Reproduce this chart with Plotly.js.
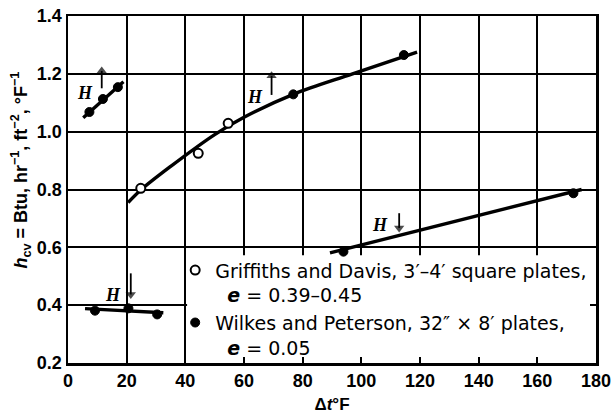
<!DOCTYPE html>
<html><head><meta charset="utf-8">
<script src="https://cdn.plot.ly/plotly-3.0.1.min.js"></script>
<style>html,body{margin:0;padding:0;background:#fff}#chart{width:613px;height:414px}</style>
</head><body><div id="chart"></div>
<script>
// Griffiths and Davis (open circles)
const griffX = [24.8, 44.4, 54.6];
const griffY = [0.804, 0.925, 1.029];
// Wilkes and Peterson (filled circles)
const wilkesX = [7.3, 11.9, 17.0, 76.8, 114.5, 93.9, 172.3, 9.2, 20.6, 30.4];
const wilkesY = [1.068, 1.113, 1.154, 1.129, 1.265, 0.585, 0.787, 0.381, 0.389, 0.368];
// faired curves
const curveAX = [5.2, 18.9];
const curveAY = [1.048, 1.173];
const curveBX = [20.5, 25, 35, 50, 60, 77, 97, 119];
const curveBY = [0.755, 0.80, 0.88, 0.99, 1.05, 1.13, 1.20, 1.275];
const curveCX = [89.3, 175.1];
const curveCY = [0.581, 0.80];
const curveDX = [5.8, 32.5];
const curveDY = [0.388, 0.374];
// H labels and heat-flow arrows
const hLabelX = [5.8, 63.8, 106.4, 15.5];
const hLabelY = [1.134, 1.121, 0.677, 0.435];
const arrowX = [11.5, 69.4, 112.9, 21.4];
const arrowFromY = [1.15, 1.127, 0.718, 0.51];
const arrowToY = [1.21, 1.193, 0.667, 0.437];
const xTicks = [0, 20, 40, 60, 80, 100, 120, 140, 160, 180];
const yTicks = [0.2, 0.4, 0.6, 0.8, 1.0, 1.2, 1.4];

const lineStyle = {color: '#000', width: 3.4};
const traces = [
  {x: curveAX, y: curveAY, mode: 'lines', line: lineStyle, showlegend: false, hoverinfo: 'skip'},
  {x: curveBX, y: curveBY, mode: 'lines', line: Object.assign({shape: 'spline', smoothing: 1}, lineStyle), showlegend: false, hoverinfo: 'skip'},
  {x: curveCX, y: curveCY, mode: 'lines', line: lineStyle, showlegend: false, hoverinfo: 'skip'},
  {x: curveDX, y: curveDY, mode: 'lines', line: lineStyle, showlegend: false, hoverinfo: 'skip'}
];
for (let i = 0; i < arrowX.length; i++) {
  traces.push({x: [arrowX[i], arrowX[i]], y: [arrowFromY[i], arrowToY[i]], mode: 'lines+markers', showlegend: false, hoverinfo: 'skip',
    line: {color: '#000', width: 1.8},
    marker: {symbol: 'triangle-up', angleref: 'previous', size: [0, 9], color: '#000', line: {width: 0}}});
}
traces.push(
  {x: griffX, y: griffY, mode: 'markers', legendgroup: 'g', name: 'Griffiths and Davis, 3\u2032\u20134\u2032 square plates,<br>\u00a0\u00a0<i><b>e</b></i> = 0.39\u20130.45',
   marker: {symbol: 'circle', size: 9, color: '#fff', line: {color: '#000', width: 2}}},
  {x: wilkesX, y: wilkesY, mode: 'markers', legendgroup: 'w', name: 'Wilkes and Peterson, 32\u2033 \u00d7 8\u2032 plates,<br>\u00a0\u00a0<i><b>e</b></i> = 0.05',
   marker: {symbol: 'circle', size: 9, color: '#000', line: {color: '#000', width: 1}}}
);

const annotations = [];
for (let i = 0; i < hLabelX.length; i++) {
  annotations.push({x: hLabelX[i], y: hLabelY[i], xref: 'x', yref: 'y', text: '<b><i>H</i></b>', showarrow: false,
    font: {family: 'Liberation Serif, serif', size: 18, color: '#000'}});
}
annotations.push({x: -0.09, y: 0.556, xref: 'paper', yref: 'paper', xanchor: 'center', yanchor: 'middle', textangle: -90, showarrow: false,
  text: '<b><i>h</i><sub>cv</sub> = Btu, hr<sup>\u22121</sup>, ft<sup>\u22122</sup>, \u00b0F<sup>\u22121</sup></b>',
  font: {family: 'Liberation Sans, Arial, sans-serif', size: 18, color: '#000'}});

const axisCommon = {
  showline: true, mirror: 'ticks', linecolor: '#000', linewidth: 2.5,
  showgrid: true, gridcolor: '#000', gridwidth: 2,
  ticks: 'inside', ticklen: 6, tickwidth: 2, tickcolor: '#000',
  zeroline: false,
  tickfont: {family: 'Liberation Sans, Arial, sans-serif', size: 18, color: '#000', weight: 'bold'}
};

const layout = {
  width: 613, height: 414,
  margin: {l: 68, r: 17, t: 16, b: 51},
  paper_bgcolor: '#fff', plot_bgcolor: '#fff',
  showlegend: true,
  legend: {x: 0.203, y: 0.322, xanchor: 'left', yanchor: 'top', bgcolor: 'rgba(0,0,0,0)', borderwidth: 0,
    font: {family: 'DejaVu Sans, sans-serif', size: 19, color: '#000'}, valign: 'top', itemwidth: 30, tracegroupgap: 0},
  xaxis: Object.assign({}, axisCommon, {range: [0, 180], tickvals: xTicks, ticktext: xTicks.map(String),
    title: {text: '<b>\u0394<i>t</i>\u00b0F</b>', standoff: 8, font: {family: 'Liberation Sans, Arial, sans-serif', size: 17, color: '#000'}}}),
  yaxis: Object.assign({}, axisCommon, {range: [0.2, 1.4], tickvals: yTicks, ticktext: yTicks.map(v => v.toFixed(1))}),
  shapes: [{type: 'rect', xref: 'x', yref: 'y', x0: 40.6, x1: 180, y0: 0.2, y1: 0.573, fillcolor: '#fff', line: {width: 0}, layer: 'between'}],
  annotations: annotations
};

Plotly.newPlot('chart', traces, layout, {staticPlot: true, displayModeBar: false});
</script>
</body></html>
